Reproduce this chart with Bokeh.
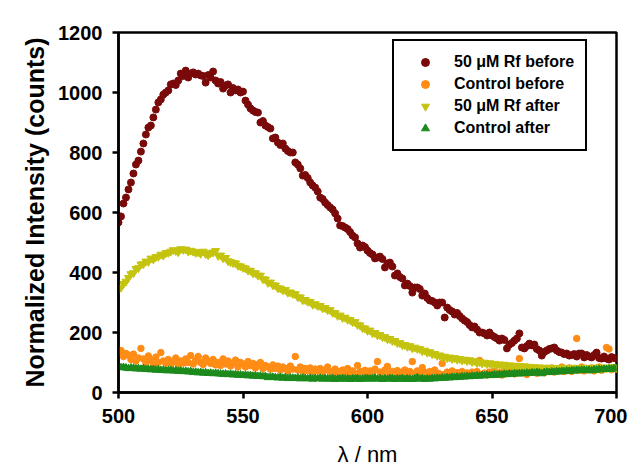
from bokeh.plotting import figure
from bokeh.models import ColumnDataSource, Legend, LegendItem, FixedTicker
from bokeh.embed import file_html
from bokeh.resources import INLINE

wavelength = list(range(500, 701))

rf_before = [
    567, 587, 630, 650, 677, 700, 730, 760, 773, 803,
    830, 860, 883, 890, 917, 943, 967, 977, 993, 1000,
    1007, 1027, 1030, 1025, 1040, 1063, 1055, 1073, 1050, 1063,
    1067, 1060, 1063, 1057, 1055, 1033, 1058, 1050, 1070, 1040,
    1030, 1035, 1013, 1023, 1027, 1000, 1015, 1007, 1010, 1000,
    1003, 973, 960, 947, 940, 935, 933, 900, 905, 890,
    885, 880, 847, 850, 833, 825, 830, 813, 805, 800,
    800, 767, 760, 747, 723, 725, 715, 700, 690, 683,
    670, 650, 645, 633, 625, 617, 610, 597, 580, 557,
    555, 550, 545, 535, 523, 517, 497, 483, 490, 485,
    473, 465, 460, 447, 450, 453, 445, 417, 430, 433,
    420, 390, 397, 385, 380, 357, 363, 355, 333, 350,
    350, 345, 323, 330, 315, 307, 305, 300, 290, 300,
    300, 250, 283, 275, 270, 260, 265, 255, 247, 240,
    235, 225, 217, 220, 210, 200, 200, 197, 190, 200,
    190, 185, 180, 173, 180, 175, 147, 160, 165, 173,
    180, 197, 150, 147, 155, 163, 157, 160, 145, 140,
    123, 135, 140, 145, 147, 150, 140, 135, 133, 128,
    130, 123, 125, 128, 120, 130, 130, 117, 125, 120,
    117, 125, 133, 115, 113, 120, 113, 110, 118, 115,
    113,
]

control_before = [
    135, 140, 120, 130, 125, 110, 128, 105, 115, 147,
    112, 100, 122, 108, 95, 118, 100, 133, 105, 98,
    110, 95, 102, 115, 92, 105, 98, 112, 100, 123,
    95, 108, 120, 100, 93, 115, 105, 97, 110, 92,
    100, 90, 112, 95, 105, 88, 98, 108, 85, 100,
    95, 85, 103, 90, 97, 82, 93, 100, 80, 90,
    85, 78, 92, 80, 88, 75, 85, 80, 72, 88,
    78, 120, 75, 85, 70, 80, 73, 82, 68, 78,
    72, 80, 67, 75, 85, 70, 65, 78, 70, 62,
    75, 68, 80, 65, 72, 63, 90, 70, 66, 74,
    65, 72, 62, 78, 103, 68, 64, 75, 87, 62,
    70, 65, 73, 60, 68, 75, 62, 70, 103, 64,
    72, 60, 83, 67, 62, 70, 58, 75, 65, 62,
    97, 60, 68, 63, 72, 58, 66, 62, 70, 60,
    65, 58, 68, 62, 70, 107, 60, 65, 58, 68,
    62, 70, 60, 66, 58, 72, 63, 68, 75, 62,
    70, 113, 65, 72, 60, 75, 68, 78, 64, 72,
    80, 66, 75, 70, 82, 68, 78, 72, 85, 70,
    76, 82, 70, 78, 180, 74, 85, 72, 80, 76,
    82, 72, 78, 85, 74, 80, 150, 145, 76, 82,
    78,
]

rf_after = [
    345, 350, 362, 370, 382, 395, 398, 412, 415, 427,
    428, 437, 436, 447, 444, 452, 453, 460, 457, 465,
    466, 470, 475, 472, 468, 478, 476, 477, 470, 473,
    470, 466, 468, 463, 470, 462, 458, 465, 467, 472,
    456, 457, 448, 449, 438, 435, 432, 431, 423, 421,
    416, 414, 407, 406, 398, 398, 390, 390, 378, 377,
    366, 367, 358, 357, 348, 347, 341, 342, 333, 334,
    329, 328, 318, 317, 308, 309, 303, 302, 293, 295,
    289, 289, 281, 282, 275, 275, 266, 265, 256, 257,
    249, 250, 243, 242, 235, 235, 226, 224, 215, 214,
    206, 207, 198, 199, 191, 192, 185, 185, 178, 179,
    172, 172, 165, 165, 158, 159, 153, 155, 148, 150,
    146, 145, 138, 140, 133, 135, 128, 129, 123, 124,
    119, 120, 115, 117, 112, 115, 110, 112, 107, 110,
    105, 108, 102, 105, 99, 102, 97, 100, 95, 98,
    93, 96, 91, 94, 90, 93, 88, 91, 87, 90,
    86, 89, 85, 88, 84, 86, 82, 85, 81, 84,
    80, 83, 79, 83, 79, 82, 78, 82, 79, 81,
    78, 82, 79, 83, 78, 82, 79, 83, 79, 82,
    80, 83, 79, 84, 80, 83, 81, 84, 80, 85,
    82,
]

control_after = [
    85, 83, 84, 82, 80, 82, 81, 79, 80, 78,
    80, 77, 78, 76, 77, 75, 76, 74, 75, 73,
    73, 74, 72, 73, 71, 72, 70, 71, 69, 70,
    67, 68, 66, 67, 65, 66, 64, 65, 63, 64,
    63, 62, 61, 62, 60, 61, 59, 60, 58, 59,
    57, 58, 56, 57, 55, 56, 54, 55, 53, 54,
    50, 52, 51, 50, 49, 51, 48, 50, 47, 49,
    48, 47, 49, 46, 48, 47, 46, 48, 45, 47,
    46, 48, 45, 47, 46, 45, 47, 44, 46, 45,
    47, 45, 46, 44, 46, 45, 47, 44, 45, 46,
    47, 45, 46, 48, 45, 47, 44, 46, 45, 47,
    46, 44, 46, 45, 47, 44, 46, 45, 44, 46,
    50, 45, 47, 44, 46, 45, 47, 46, 48, 47,
    49, 48, 50, 49, 51, 50, 52, 51, 53, 52,
    54, 53, 55, 54, 56, 55, 57, 56, 58, 57,
    57, 59, 58, 60, 59, 61, 60, 62, 61, 63,
    62, 63, 64, 63, 65, 64, 66, 65, 67, 66,
    63, 67, 68, 67, 69, 68, 70, 69, 71, 70,
    72, 71, 73, 72, 74, 73, 75, 74, 73, 75,
    73, 76, 75, 77, 76, 78, 77, 79, 78, 80,
    80,
]

series_labels = ["50 μM Rf before", "Control before", "50 μM Rf after", "Control after"]
x_ticks = [500, 550, 600, 650, 700]
y_ticks = [0, 200, 400, 600, 800, 1000, 1200]

FONT = "Liberation Sans"

p = figure(
    width=627, height=467,
    x_range=(500, 700), y_range=(0, 1200),
    output_backend="svg", toolbar_location=None,
    min_border_left=118, min_border_right=11,
    min_border_top=32, min_border_bottom=75,
)
p.frame_width = 498
p.frame_height = 360

p.xgrid.visible = False
p.ygrid.visible = False
p.outline_line_color = "black"
p.outline_line_width = 2.5
p.outline_line_alpha = 1.0
p.background_fill_color = "white"
p.border_fill_color = "white"

for ax in (p.xaxis[0], p.yaxis[0]):
    ax.axis_line_width = 2.5
    ax.axis_line_color = "black"
    ax.major_tick_line_width = 2.5
    ax.major_tick_line_color = "black"
    ax.major_tick_out = 6
    ax.major_tick_in = 0
    ax.minor_tick_line_color = None
    ax.major_label_text_font = FONT
    ax.major_label_text_font_style = "bold"
    ax.major_label_text_font_size = "20px"
    ax.major_label_text_color = "black"
    ax.axis_label_text_font = FONT
    ax.axis_label_text_color = "black"

p.xaxis[0].ticker = FixedTicker(ticks=x_ticks)
p.yaxis[0].ticker = FixedTicker(ticks=y_ticks)
p.xaxis[0].major_label_standoff = 10
p.yaxis[0].major_label_standoff = 10

p.xaxis[0].axis_label = "λ / nm"
p.xaxis[0].axis_label_text_font_style = "normal"
p.xaxis[0].axis_label_text_font_size = "22px"
p.xaxis[0].axis_label_standoff = 16

p.yaxis[0].axis_label = "Normalized Intensity (counts)"
p.yaxis[0].axis_label_text_font_style = "bold"
p.yaxis[0].axis_label_text_font_size = "25px"
p.yaxis[0].axis_label_standoff = 6

src_a = ColumnDataSource(dict(x=wavelength, y=rf_before))
src_b = ColumnDataSource(dict(x=wavelength, y=control_before))
src_c = ColumnDataSource(dict(x=wavelength, y=rf_after))
src_d = ColumnDataSource(dict(x=wavelength, y=control_after))

r_a = p.scatter("x", "y", source=src_a, marker="circle", size=7,
                fill_color="#7a0a0a", line_color="#7a0a0a")
r_b = p.scatter("x", "y", source=src_b, marker="circle", size=6.5,
                fill_color="#ff8c14", line_color="#ff8c14")
r_c = p.scatter("x", "y", source=src_c, marker="inverted_triangle", size=8,
                fill_color="#c4c410", line_color="#c4c410")
r_d = p.scatter("x", "y", source=src_d, marker="triangle", size=7.5,
                fill_color="#1c8a1c", line_color="#1c8a1c")

legend = Legend(
    items=[LegendItem(label=series_labels[0], renderers=[r_a]),
           LegendItem(label=series_labels[1], renderers=[r_b]),
           LegendItem(label=series_labels[2], renderers=[r_c]),
           LegendItem(label=series_labels[3], renderers=[r_d])],
    location=(274, 241),
    orientation="vertical",
    border_line_color="black",
    border_line_width=2,
    border_line_alpha=1.0,
    background_fill_color="white",
    background_fill_alpha=1.0,
    label_text_font=FONT,
    label_text_font_style="bold",
    label_text_font_size="16px",
    label_text_color="black",
    glyph_width=40, glyph_height=20,
    label_height=20, label_standoff=9,
    spacing=2, padding=11, margin=0,
)
p.add_layout(legend, "center")

open("out.html", "w").write(file_html(p, INLINE))
